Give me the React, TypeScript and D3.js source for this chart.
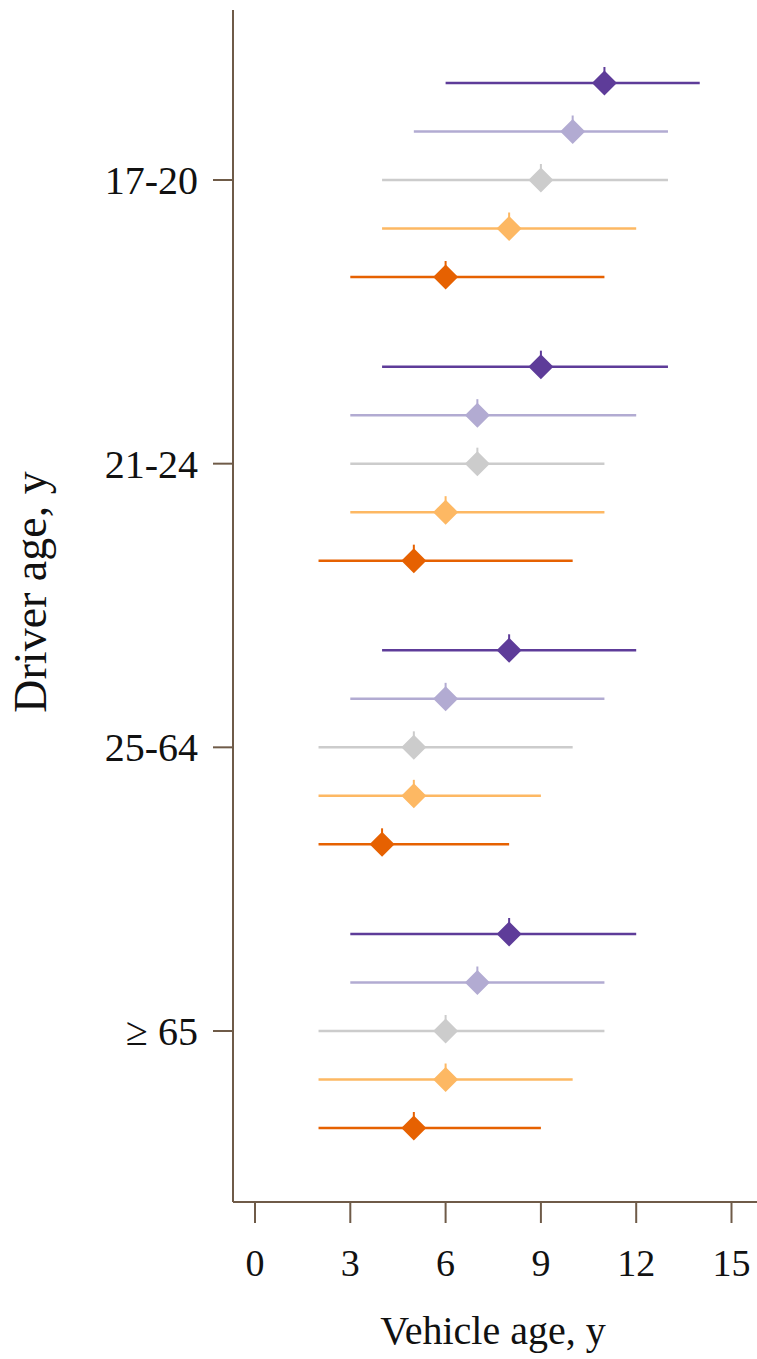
import React from "react";
import * as d3 from "d3";

// driver age groups (y axis) and the five series drawn for each
const groups = ["17-20", "21-24", "25-64", "≥ 65"];
const series = ["s1", "s2", "s3", "s4", "s5"];
const colors = ["#5e3c99", "#b2abd2", "#cccccc", "#fdb863", "#e66101"];

// median vehicle age, per group, per series (top to bottom)
const medians = [
  [11, 10, 9, 8, 6],
  [9, 7, 7, 6, 5],
  [8, 6, 5, 5, 4],
  [8, 7, 6, 6, 5],
];
const lows = [
  [6, 5, 4, 4, 3],
  [4, 3, 3, 3, 2],
  [4, 3, 2, 2, 2],
  [3, 3, 2, 2, 2],
];
const highs = [
  [14, 13, 13, 12, 11],
  [13, 12, 11, 11, 10],
  [12, 11, 10, 9, 8],
  [12, 11, 11, 10, 9],
];
const xTicks = [0, 3, 6, 9, 12, 15];

const width = 757;
const height = 1359;
const axisColor = "#6f5b48";
const font = "'Liberation Serif', 'Times New Roman', serif";

const App = () => {
  const x = d3.scaleLinear().domain([0, 15]).range([255, 731.5]);
  const y = d3.scalePoint().domain(groups).range([180, 1031]);
  const off = d3.scalePoint().domain(series).range([-97, 97]);

  const left = 233;
  const top = 10;
  const bottom = 1202;

  const diamond = (cx: number, cy: number) => {
    const r = 12.5;
    return `M${cx},${cy - r}L${cx + r},${cy}L${cx},${cy + r}L${cx - r},${cy}Z`;
  };

  return (
    <svg
      width={width}
      height={height}
      style={{ position: "absolute", left: 0, top: 0, background: "#fff" }}
      fontFamily={font}
    >
      {/* intervals and markers */}
      {groups.map((g, gi) =>
        series.map((s, si) => {
          const cy = (y(g) as number) + (off(s) as number);
          const cx = x(medians[gi][si]);
          return (
            <g key={g + s}>
              <line
                x1={x(lows[gi][si])}
                x2={x(highs[gi][si])}
                y1={cy}
                y2={cy}
                stroke={colors[si]}
                strokeWidth={2.5}
              />
              <line
                x1={cx}
                x2={cx}
                y1={cy - 16}
                y2={cy}
                stroke={colors[si]}
                strokeWidth={2}
              />
              <path d={diamond(cx, cy)} fill={colors[si]} />
            </g>
          );
        })
      )}

      {/* axes */}
      <line x1={left} x2={left} y1={top} y2={bottom} stroke={axisColor} strokeWidth={2} />
      <line x1={left} x2={width} y1={bottom} y2={bottom} stroke={axisColor} strokeWidth={2} />

      {xTicks.map((t) => (
        <g key={t}>
          <line x1={x(t)} x2={x(t)} y1={bottom + 1} y2={bottom + 21} stroke={axisColor} strokeWidth={2} />
          <text x={x(t)} y={1276} textAnchor="middle" fontSize={38} fill="#111">
            {t}
          </text>
        </g>
      ))}

      {groups.map((g) => (
        <g key={g}>
          <line x1={left - 20} x2={left} y1={y(g)} y2={y(g)} stroke={axisColor} strokeWidth={2} />
          <text x={198} y={y(g)} dy="0.35em" textAnchor="end" fontSize={40} fill="#111">
            {g}
          </text>
        </g>
      ))}

      <text x={493} y={1344} textAnchor="middle" fontSize={40} fill="#111">
        Vehicle age, y
      </text>
      <text
        transform="translate(46,592) rotate(-90)"
        textAnchor="middle"
        fontSize={46}
        fill="#111"
      >
        Driver age, y
      </text>
    </svg>
  );
};

export default App;
